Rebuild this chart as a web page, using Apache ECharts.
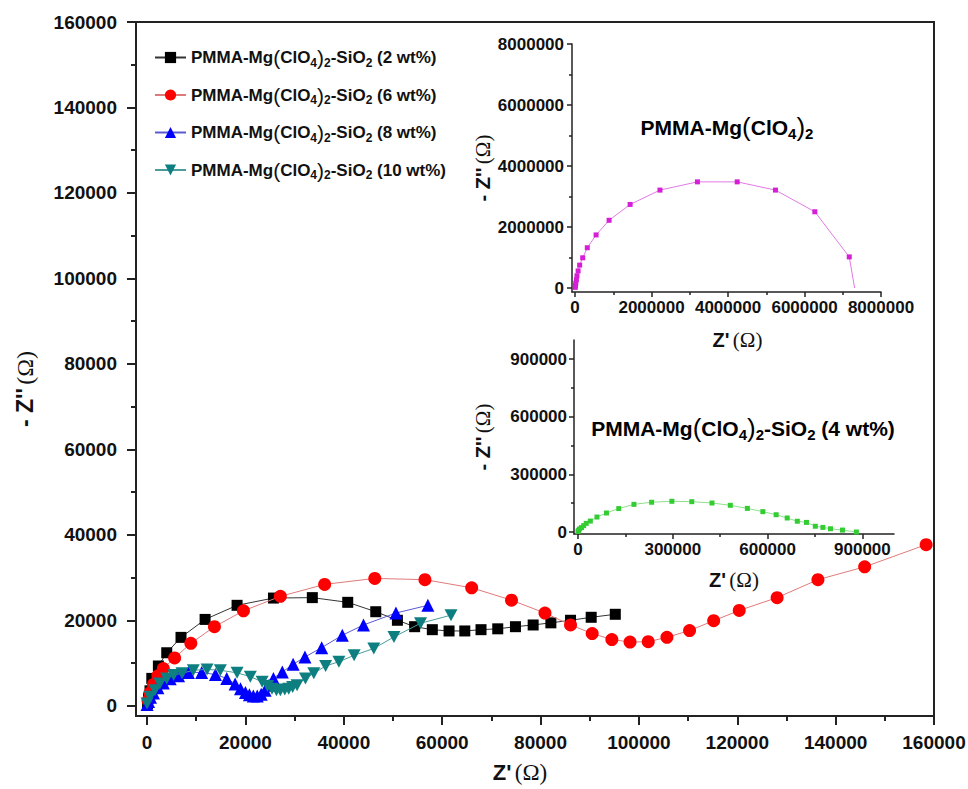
<!DOCTYPE html>
<html>
<head>
<meta charset="utf-8">
<script src="https://cdn.jsdelivr.net/npm/echarts@6.0.0/dist/echarts.min.js"></script>
<style>
html,body{margin:0;padding:0;background:#fff;}
#c{width:968px;height:789px;}
</style>
</head>
<body>
<div id="c"></div>
<script>
// ---------- DATA ----------
const legendNames = [
  'PMMA-Mg(ClO4)2-SiO2 (2 wt%)',
  'PMMA-Mg(ClO4)2-SiO2 (6 wt%)',
  'PMMA-Mg(ClO4)2-SiO2 (8 wt%)',
  'PMMA-Mg(ClO4)2-SiO2 (10 wt%)'
];
const x2wt = [100,300,600,960,2300,4000,6900,11800,18300,25700,33600,40800,46500,50900,54400,58000,61400,64600,67900,71300,74900,78500,82100,86100,90300,95200];
const y2wt = [500,1800,3500,6400,9300,12400,16000,20200,23500,25200,25300,24200,22000,20000,18500,17800,17500,17500,17800,18000,18500,18900,19400,20000,20700,21400];

const x6wt = [200,600,1300,2200,3300,5600,8900,13700,19600,27100,36100,46300,56500,66000,74100,80900,86100,90500,94500,98200,101900,105700,110300,115200,120400,128100,136400,145900,158400];
const y6wt = [1200,3000,5000,7000,8700,11200,14600,18500,22200,25600,28400,29800,29500,27600,24700,21700,18900,16900,15500,14900,15000,16000,17600,19900,22300,25300,29500,32500,37700];

const x8wt = [0,300,700,1300,2200,3300,4700,6400,8400,11100,13900,16200,17900,19000,20000,20800,21600,22400,23200,24000,24800,25700,27500,29700,32100,35500,39700,44000,50600,57100];
const y8wt = [300,1000,2000,3000,4200,5300,6300,7000,7800,7800,7300,6400,5100,4000,3100,2600,2300,2300,2700,3600,4800,6400,7900,9700,11400,13600,16500,18900,21700,23500];

const x10wt = [0,600,1600,2600,4000,5400,7100,9400,12200,14900,18300,21000,23400,24500,25400,26300,27100,28000,28800,29600,30500,32200,33900,36300,39000,42100,46100,50200,55600,61800];
const y10wt = [500,2100,3600,5200,6400,7200,7600,8300,8500,8300,7700,6800,5600,4600,4000,3600,3600,3800,4000,4400,4800,6400,7600,9300,10300,11800,13400,16100,19300,21200];

// inset 1: PMMA-Mg(ClO4)2
const xPure = [5000,10000,20000,35000,50000,80000,120000,200000,320000,550000,890000,1440000,2220000,3200000,4240000,5240000,6270000,7170000,7310000];
const yPure = [20000,80000,160000,270000,400000,560000,750000,990000,1320000,1740000,2220000,2740000,3210000,3480000,3480000,3210000,2500000,1020000,0];

// inset 2: PMMA-Mg(ClO4)2-SiO2 (4 wt%)
const x4wt = [0,2000,5000,11000,18000,26000,39000,60000,90000,129000,177000,233000,297000,360000,424000,482000,536000,585000,627000,662000,694000,723000,751000,775000,799000,837000,881000];
const y4wt = [3000,9000,16000,23000,33000,45000,57000,78000,99000,122000,144000,155000,160000,158000,151000,139000,123000,106000,90000,73000,56000,50000,30000,24000,17000,10000,0];

// tick values
const mainMajor = [0,20000,40000,60000,80000,100000,120000,140000,160000];
const mainMinor = [10000,30000,50000,70000,90000,110000,130000,150000];
const in1Major = [0,2000000,4000000,6000000,8000000];
const in1Minor = [1000000,3000000,5000000,7000000];
const in2Major = [0,300000,600000,900000];
const in2Minor = [150000,450000,750000];

// ---------- STYLE ----------
const FONT = "'Liberation Sans', Arial, Helvetica, sans-serif";
const SERIF = "'Liberation Serif', 'Times New Roman', serif";
const INK = '#111';

function chemRich(size){
  return {
    t:{fontSize:size,fontWeight:'bold',fontFamily:FONT,color:INK},
    p:{fontSize:Math.round(size*1.25),fontWeight:'normal',fontFamily:FONT,color:INK},
    s:{fontSize:Math.round(size*0.72),fontWeight:'bold',fontFamily:FONT,color:INK,padding:[Math.round(size*0.6),0,0,0]}
  };
}
function chemText(name){
  let out = '{t|PMMA-Mg}{p|(}{t|ClO}{s|4}{p|)}{s|2}';
  const m = name.match(/-SiO2 (\(.*\))$/);
  if (m) out += '{t|-SiO}{s|2}{t| ' + m[1] + '}';
  return out;
}
const axisNameRich = (size)=>({
  z:{fontSize:size,fontWeight:'bold',fontFamily:FONT,color:INK},
  o:{fontSize:size+1,fontWeight:'normal',fontFamily:SERIF,color:INK}
});

function majorAxis(o){
  return {
    type:'value', gridIndex:o.grid, min:o.min, max:o.max,
    position:o.pos,
    axisLine:{show:true,onZero:false,lineStyle:{color:'#222',width:o.lw}},
    axisTick:{show:true,customValues:o.ticks,length:o.tl,lineStyle:{color:'#222',width:o.lw}},
    axisLabel:{show:true,customValues:o.ticks,formatter:v=>String(v),fontSize:o.fs,fontWeight:'bold',fontFamily:FONT,color:INK,margin:o.margin},
    splitLine:{show:false},
    name:o.name, nameLocation:'middle', nameGap:o.gap, nameRotate:o.rot||0,
    nameTextStyle:{rich:axisNameRich(o.nfs),padding:o.npad||0}
  };
}
function minorAxis(o){
  return {
    type:'value', gridIndex:o.grid, min:o.min, max:o.max, position:o.pos,
    axisLine:{show:false,onZero:false},
    axisTick:{show:true,customValues:o.ticks,length:o.tl,lineStyle:{color:'#222',width:o.lw}},
    axisLabel:{show:false},
    splitLine:{show:false}
  };
}
const zip = (xs,ys)=>xs.map((x,i)=>[x,ys[i]]);

const xAxes = [
  majorAxis({grid:0,min:-2250,max:160000,pos:'bottom',lw:2,ticks:mainMajor,tl:9,fs:19,margin:17,name:"{z|Z'} {o|(Ω)}",gap:45,nfs:22,npad:[0,30,0,0]}),
  minorAxis({grid:0,min:-2250,max:160000,pos:'bottom',lw:2,ticks:mainMinor,tl:5}),
  majorAxis({grid:1,min:-80000,max:8000000,pos:'bottom',lw:1.5,ticks:in1Major,tl:5,fs:17,margin:7,name:"{z|Z'} {o|(Ω)}",gap:37,nfs:20,npad:[0,0,0,22]}),
  minorAxis({grid:1,min:-80000,max:8000000,pos:'bottom',lw:1.5,ticks:in1Minor,tl:3}),
  majorAxis({grid:2,min:-12700,max:1000000,pos:'bottom',lw:1.5,ticks:in2Major,tl:5,fs:17,margin:7,name:"{z|Z'} {o|(Ω)}",gap:35,nfs:20}),
  minorAxis({grid:2,min:-12700,max:1000000,pos:'bottom',lw:1.5,ticks:in2Minor,tl:3})
];
const yAxes = [
  majorAxis({grid:0,min:-2400,max:160000,pos:'left',lw:2,ticks:mainMajor,tl:9,fs:19,margin:19,name:"{z|- Z''} {o|(Ω)}",gap:99,rot:90,nfs:23,npad:[0,40,0,0]}),
  minorAxis({grid:0,min:-2400,max:160000,pos:'left',lw:2,ticks:mainMinor,tl:5}),
  majorAxis({grid:1,min:-131000,max:8000000,pos:'left',lw:1.5,ticks:in1Major,tl:5,fs:17,margin:8,name:"{z|- Z''} {o|(Ω)}",gap:79,rot:90,nfs:20}),
  minorAxis({grid:1,min:-131000,max:8000000,pos:'left',lw:1.5,ticks:in1Minor,tl:3}),
  majorAxis({grid:2,min:-10400,max:1000000,pos:'left',lw:1.5,ticks:in2Major,tl:5,fs:17,margin:7,name:"{z|- Z''} {o|(Ω)}",gap:81,rot:90,nfs:20}),
  minorAxis({grid:2,min:-10400,max:1000000,pos:'left',lw:1.5,ticks:in2Minor,tl:3})
];

const mainSeries = [
  {x:x2wt,y:y2wt,sym:'rect',size:11,color:'#000000',line:'#333333'},
  {x:x6wt,y:y6wt,sym:'circle',size:13,color:'#ff0000',line:'#e07a7a'},
  {x:x8wt,y:y8wt,sym:'triangle',size:13,color:'#0000ff',line:'#5a5ad0'},
  {x:x10wt,y:y10wt,sym:'path://M0,0 L10,0 L5,9 Z',size:[13,12],color:'#0e7f80',line:'#4c9c9c'}
].map((s,i)=>({
  type:'line', name:legendNames[i], xAxisIndex:0, yAxisIndex:0,
  data:zip(s.x,s.y), symbol:s.sym, symbolSize:s.size, showSymbol:true,
  itemStyle:{color:s.color,opacity:1},
  lineStyle:{color:s.line,width:1},
  z:2+i, animation:false
}));

const pureData = zip(xPure,yPure).map((p,i,a)=> i===a.length-1 ? {value:p,symbol:'none'} : p);

const insetSeries = [
  {type:'line',name:'pure',xAxisIndex:2,yAxisIndex:2,data:pureData,symbol:'rect',symbolSize:5,
   itemStyle:{color:'#d61ed6'},lineStyle:{color:'#e27ae2',width:1},animation:false},
  {type:'line',name:'4wt',xAxisIndex:4,yAxisIndex:4,data:zip(x4wt,y4wt),symbol:'rect',symbolSize:5,
   itemStyle:{color:'#33cc33'},lineStyle:{color:'#8ee08e',width:1},animation:false}
];

const chart = echarts.init(document.getElementById('c'), null, {renderer:'svg'});
chart.setOption({
  animation:false,
  backgroundColor:'#ffffff',
  grid:[
    {left:136,top:22,right:34,bottom:73,show:true,borderColor:'#222',borderWidth:2,backgroundColor:'transparent',containLabel:false,outerBoundsMode:'none'},
    {left:572,top:44,width:309,height:248,show:false,containLabel:false,outerBoundsMode:'none'},
    {left:574,top:340,width:320,height:194,show:false,containLabel:false,outerBoundsMode:'none'}
  ],
  xAxis:xAxes,
  yAxis:yAxes,
  legend:{
    data:legendNames, orient:'vertical', left:149, top:42,
    itemWidth:31, itemHeight:14, itemGap:16,
    formatter:(name)=>chemText(name),
    textStyle:{rich:chemRich(17)}
  },
  graphic:[
    {type:'text',x:727,y:127,z:10,
     style:{text:chemText('PMMA-Mg(ClO4)2'),rich:chemRich(21),align:'center',verticalAlign:'middle'}},
    {type:'text',x:743,y:428,z:10,
     style:{text:chemText('PMMA-Mg(ClO4)2-SiO2 (4 wt%)'),rich:chemRich(21),align:'center',verticalAlign:'middle'}}
  ],
  series:mainSeries.concat(insetSeries)
});
</script>
</body>
</html>
